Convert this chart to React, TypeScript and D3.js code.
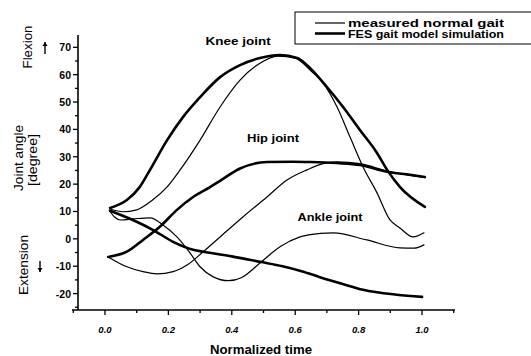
import { useEffect, useRef } from 'react';
import * as d3 from 'd3';

const W = 531, H = 356;

// [normalized time, joint angle in degrees]
const kneeMeasured: [number, number][] = [
  [0.016, 10.9], [0.057, 9.9], [0.10, 10.6], [0.15, 14.2], [0.196, 19.0], [0.237, 25.2],
  [0.30, 36.1], [0.363, 48.2], [0.426, 58.0], [0.489, 64.2], [0.545, 66.8], [0.60, 66.0],
  [0.647, 61.7], [0.688, 56.9], [0.732, 48.2], [0.773, 37.2], [0.814, 26.3], [0.858, 16.8],
  [0.899, 6.9], [0.93, 4.0], [0.972, 0.7], [1.006, 2.2],
];
const kneeFes: [number, number][] = [
  [0.016, 11.3], [0.069, 14.2], [0.11, 19.0], [0.142, 25.2], [0.196, 36.1], [0.246, 44.5],
  [0.30, 51.8], [0.363, 59.1], [0.426, 63.5], [0.489, 66.1], [0.552, 67.2], [0.606, 66.1],
  [0.647, 62.4], [0.70, 55.5], [0.751, 48.2], [0.804, 39.8], [0.858, 31.4], [0.89, 25.2],
  [0.93, 19.0], [1.009, 11.7],
];
const hipMeasured: [number, number][] = [
  [0.01, -6.6], [0.069, -10.2], [0.12, -12.0], [0.164, -12.8], [0.215, -12.0], [0.26, -9.5],
  [0.31, -4.7], [0.363, 0.7], [0.435, 8.0], [0.511, 15.3], [0.574, 21.5], [0.637, 25.2],
  [0.688, 27.5], [0.732, 28.1], [0.804, 27.5], [0.89, 24.8], [0.962, 23.2], [1.009, 22.4],
];
const hipFes: [number, number][] = [
  [0.01, -6.6], [0.069, -4.7], [0.12, -0.4], [0.173, 4.4], [0.227, 10.6], [0.278, 15.3],
  [0.33, 18.8], [0.363, 21.2], [0.426, 25.7], [0.511, 28.1], [0.593, 28.2], [0.647, 28.1],
  [0.732, 27.7], [0.804, 27.0], [0.89, 24.5], [0.962, 23.4], [1.009, 22.6],
];
const ankleMeasured: [number, number][] = [
  [0.016, 10.0], [0.03, 8.0], [0.05, 6.9], [0.09, 7.3], [0.142, 7.7], [0.183, 5.1],
  [0.227, 0.7], [0.268, -5.1], [0.30, -10.2], [0.34, -13.8], [0.39, -15.3], [0.43, -14.2],
  [0.489, -8.8], [0.552, -2.9], [0.615, 0.7], [0.68, 2.0], [0.72, 2.2], [0.826, -0.4],
  [0.93, -3.3], [0.975, -3.4], [1.006, -2.2],
];
const ankleFes: [number, number][] = [
  [0.016, 10.3], [0.088, 6.9], [0.151, 3.3], [0.215, -1.1], [0.278, -4.0], [0.331, -5.1],
  [0.40, -6.4], [0.489, -8.4], [0.56, -10.0], [0.62, -11.8], [0.678, -14.0], [0.75, -16.5],
  [0.814, -18.6], [0.92, -20.4], [1.0, -21.2],
];

const xTicks = [0, 0.2, 0.4, 0.6, 0.8, 1.0];
const yTicks = [-20, -10, 0, 10, 20, 30, 40, 50, 60, 70];
// label, time, angle, text width
const jointLabels: [string, number, number, number][] = [
  ['Knee joint', 0.42, 71, 65],
  ['Hip joint', 0.53, 35.5, 52],
  ['Ankle joint', 0.71, 6.7, 65],
];
const legendItems = ['measured normal gait', 'FES gait model simulation'];

const FONT = '"Liberation Sans", Arial, sans-serif';

export default function App() {
  const ref = useRef<SVGSVGElement>(null);

  useEffect(() => {
    const svg = d3.select(ref.current);
    svg.selectAll('*').remove();

    const x = d3.scaleLinear().domain([-0.104, 1.104]).range([72, 455]);
    const y = d3.scaleLinear().domain([-26, 74.5]).range([310, 35]);
    const axisX = 78, axisY = 310;

    // axes
    svg.append('line').attr('x1', axisX).attr('x2', axisX).attr('y1', y(74.5)).attr('y2', axisY)
      .attr('stroke', '#000').attr('stroke-width', 1.6);
    svg.append('line').attr('x1', x(-0.104)).attr('x2', x(1.104)).attr('y1', axisY).attr('y2', axisY)
      .attr('stroke', '#000').attr('stroke-width', 1.6);

    // y ticks: major every 10, minor every 5
    d3.range(-25, 75, 5).forEach((v) => {
      const major = v % 10 === 0;
      svg.append('line').attr('x1', axisX - (major ? 5 : 3)).attr('x2', axisX)
        .attr('y1', y(v)).attr('y2', y(v)).attr('stroke', '#000').attr('stroke-width', 1.3);
    });
    svg.selectAll('.ylab').data(yTicks).join('text')
      .attr('x', 71).attr('y', (d) => y(d) + 4)
      .attr('text-anchor', 'end').attr('font-family', FONT).attr('font-weight', 700)
      .attr('font-size', 10.5).text((d) => d);

    // x ticks: major every 0.2, minor every 0.1
    d3.range(-0.1, 1.15, 0.1).forEach((t) => {
      const major = Math.round(t * 10) % 2 === 0;
      svg.append('line').attr('x1', x(t)).attr('x2', x(t))
        .attr('y1', axisY).attr('y2', axisY + (major ? 5 : 3))
        .attr('stroke', '#000').attr('stroke-width', 1.3);
    });
    svg.selectAll('.xlab').data(xTicks).join('text')
      .attr('x', (d) => x(d)).attr('y', 333)
      .attr('text-anchor', 'middle').attr('font-family', FONT).attr('font-weight', 700)
      .attr('font-style', 'italic').attr('font-size', 9.5).text((d) => d.toFixed(1));

    svg.append('text').attr('x', 210).attr('y', 354)
      .attr('font-family', FONT).attr('font-weight', 700).attr('font-size', 12)
      .attr('textLength', 102).attr('lengthAdjust', 'spacingAndGlyphs')
      .text('Normalized time');

    // y axis labels
    const vText = (txt: string, cx: number, cy: number, len: number) =>
      svg.append('text').attr('transform', `translate(${cx},${cy}) rotate(-90)`)
        .attr('x', -len / 2).attr('font-family', FONT)
        .attr('font-size', 12).attr('textLength', len).attr('lengthAdjust', 'spacingAndGlyphs')
        .text(txt);
    vText('Flexion', 32, 47, 43);
    vText('Joint angle', 23, 158, 66);
    vText('[degree]', 37, 160, 52);
    vText('Extension', 28, 265, 60);

    // flexion / extension arrows
    const arrow = (ax: number, y0: number, y1: number) => {
      svg.append('line').attr('x1', ax).attr('x2', ax).attr('y1', y0).attr('y2', y1)
        .attr('stroke', '#000').attr('stroke-width', 1.4);
      const dir = y1 < y0 ? 1 : -1;
      svg.append('path')
        .attr('d', `M${ax - 2.5},${y1 + dir * 4}L${ax},${y1}L${ax + 2.5},${y1 + dir * 4}Z`)
        .attr('fill', '#000');
    };
    arrow(45, 54, 42);
    arrow(40, 261, 272);

    // curves
    const line = d3.line<[number, number]>()
      .x((d) => x(d[0])).y((d) => y(d[1])).curve(d3.curveMonotoneX);
    const series: [[number, number][], number][] = [
      [kneeMeasured, 1.2], [hipMeasured, 1.2], [ankleMeasured, 1.2],
      [kneeFes, 2.6], [hipFes, 2.6], [ankleFes, 2.6],
    ];
    series.forEach(([data, w]) => {
      svg.append('path').attr('d', line(data)).attr('fill', 'none')
        .attr('stroke', '#000').attr('stroke-width', w).attr('stroke-linecap', 'round');
    });

    // joint labels
    jointLabels.forEach(([txt, t, v, len]) => {
      svg.append('text').attr('x', x(t) - len / 2).attr('y', y(v))
        .attr('font-family', FONT).attr('font-weight', 700).attr('font-size', 11.5)
        .attr('textLength', len).attr('lengthAdjust', 'spacingAndGlyphs').text(txt);
    });

    // legend
    svg.append('rect').attr('x', 295).attr('y', 12).attr('width', 250).attr('height', 32)
      .attr('fill', '#fff').attr('stroke', '#000').attr('stroke-width', 1);
    legendItems.forEach((txt, i) => {
      const ly = 23 + i * 10.5;
      svg.append('line').attr('x1', 315).attr('x2', 345).attr('y1', ly).attr('y2', ly)
        .attr('stroke', '#000').attr('stroke-width', i === 0 ? 1.2 : 2.6);
      svg.append('text').attr('x', 348).attr('y', ly + 4).attr('font-family', FONT)
        .attr('font-weight', 700).attr('font-size', 11)
        .attr('textLength', 156).attr('lengthAdjust', 'spacingAndGlyphs').text(txt);
    });
  }, []);

  return (
    <svg ref={ref} width={W} height={H}
      style={{ position: 'absolute', left: 0, top: 0, background: '#fff' }} />
  );
}
